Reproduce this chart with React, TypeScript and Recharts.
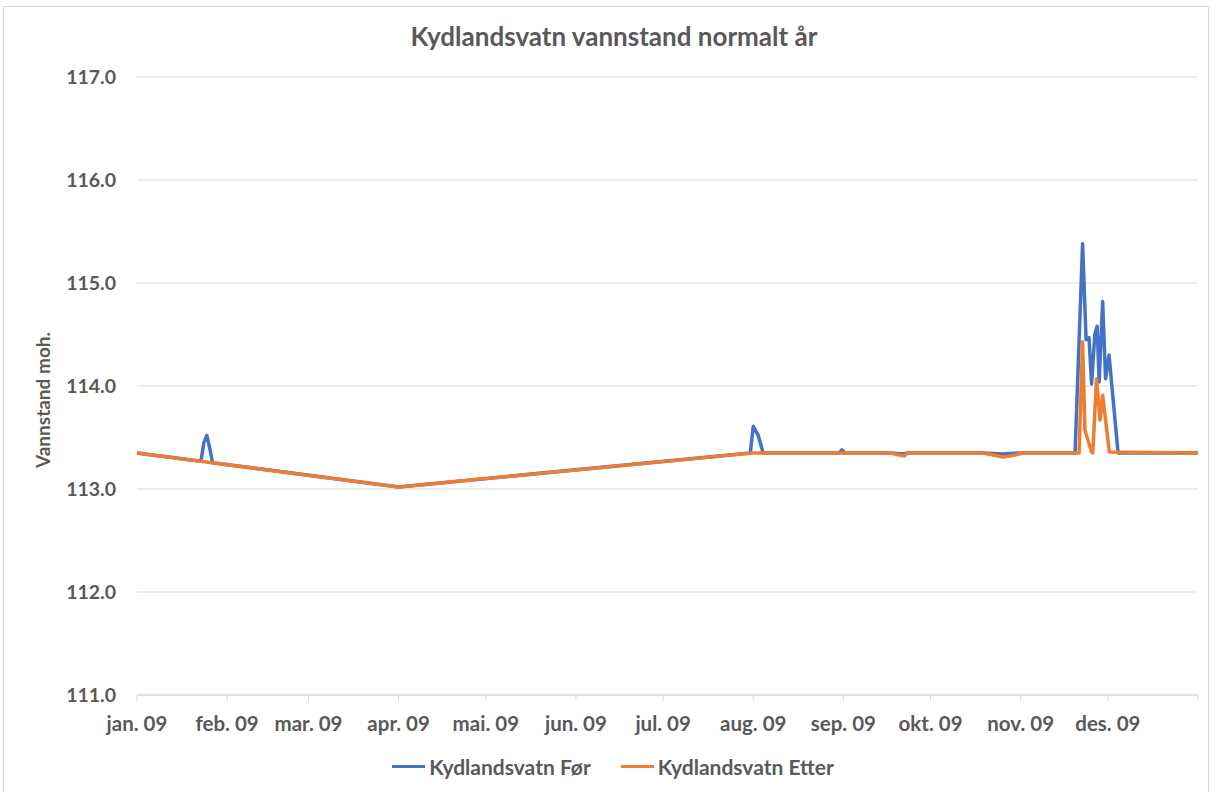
import { LineChart, Line, XAxis, YAxis, CartesianGrid, Legend } from "recharts";

// x positions are day-of-year (0 = 1 Jan 2009), y is water level in moh.
const monthDays = [0, 31, 59, 90, 120, 151, 181, 212, 243, 273, 304, 334, 365];
const monthLabels = [
  "jan. 09", "feb. 09", "mar. 09", "apr. 09", "mai. 09", "jun. 09",
  "jul. 09", "aug. 09", "sep. 09", "okt. 09", "nov. 09", "des. 09", "",
];
const levelTicks = [111, 112, 113, 114, 115, 116, 117];

const forDays = [
  0, 22, 23, 24, 25, 26, 90, 211, 212, 213.7, 215.4, 241.5, 242.5, 243.5,
  259, 264, 265, 291, 298, 304, 322.7, 325.3, 326.5, 327.5, 328.4, 329.5,
  330.3, 331, 332.2, 333.2, 334.4, 337.5, 365,
];
const forLevels = [
  113.35, 113.27, 113.45, 113.52, 113.4, 113.255, 113.02, 113.35, 113.61, 113.52, 113.35, 113.35, 113.38, 113.35,
  113.35, 113.34, 113.35, 113.35, 113.34, 113.35, 113.35, 115.38, 114.45, 114.47, 114.02, 114.5,
  114.58, 114.04, 114.82, 114.07, 114.3, 113.35, 113.35,
];

const etterDays = [
  0, 90, 211.5, 259, 264, 265, 291, 298, 302, 305, 324.1, 325.3, 326.1,
  328.4, 328.8, 330.1, 331.3, 332.2, 334.5, 365,
];
const etterLevels = [
  113.35, 113.02, 113.35, 113.35, 113.32, 113.35, 113.35, 113.31, 113.33, 113.35, 113.35, 114.43, 113.57,
  113.36, 113.35, 114.07, 113.67, 113.91, 113.36, 113.35,
];

const forData = forDays.map((day, i) => ({ day, level: forLevels[i] }));
const etterData = etterDays.map((day, i) => ({ day, level: etterLevels[i] }));

const BLUE = "#4472C4";
const ORANGE = "#ED7D31";
const TEXT = "#595959";
const FONT = "Lato, 'Open Sans', sans-serif";

function ChartLegend() {
  const items = [
    { name: "Kydlandsvatn Før", color: BLUE },
    { name: "Kydlandsvatn Etter", color: ORANGE },
  ];
  return (
    <div style={{ display: "flex", justifyContent: "center", gap: 30, paddingLeft: 14 }}>
      {items.map((it) => (
        <span
          key={it.name}
          style={{ display: "flex", alignItems: "center", gap: 4, fontFamily: FONT, fontWeight: 700, fontSize: 21, color: TEXT }}
        >
          <span style={{ width: 33, height: 3.5, background: it.color, display: "inline-block" }} />
          {it.name}
        </span>
      ))}
    </div>
  );
}

export default function App() {
  return (
    <div style={{ position: "absolute", left: 0, top: 0, width: 1212, height: 792, background: "#fff", overflow: "hidden" }}>
      <div
        style={{ position: "absolute", left: 3, top: 6, width: 1204, height: 800, border: "1px solid #d9d9d9" }}
      />
      <div
        style={{
          position: "absolute", top: 20, left: 0, width: 1228, textAlign: "center",
          fontFamily: FONT, fontWeight: 700, fontSize: 26, color: TEXT,
        }}
      >
        Kydlandsvatn vannstand normalt år
      </div>
      <LineChart
        width={1212}
        height={792}
        margin={{ top: 77, right: 14, left: 0, bottom: 57 }}
        style={{ position: "absolute", left: 0, top: 0 }}
      >
        <CartesianGrid vertical={false} stroke="#d9d9d9" />
        <XAxis
          dataKey="day"
          type="number"
          domain={[0, 365]}
          ticks={monthDays}
          interval={0}
          tickFormatter={(v: number) => monthLabels[monthDays.indexOf(v)] ?? ""}
          height={40}
          stroke="#d9d9d9"
          tickSize={6}
          tickMargin={15}
          tick={{ fill: TEXT, fontSize: 20.5, fontWeight: 700, fontFamily: FONT }}
        />
        <YAxis
          type="number"
          domain={[111, 117]}
          ticks={levelTicks}
          width={137}
          axisLine={false}
          tickLine={false}
          tickSize={0}
          tickMargin={21}
          tickFormatter={(v: number) => v.toFixed(1)}
          tick={{ fill: TEXT, fontSize: 19.5, fontWeight: 700, fontFamily: FONT }}
          label={{
            value: "Vannstand moh.",
            angle: -90,
            position: "center",
            dx: -25,
            dy: 14,
            style: { fill: TEXT, fontSize: 19, fontWeight: 700, fontFamily: FONT },
          }}
        />
        <Line
          data={forData}
          dataKey="level"
          name="Kydlandsvatn Før"
          type="linear"
          stroke={BLUE}
          strokeWidth={3.5}
          strokeLinejoin="round"
          dot={false}
          isAnimationActive={false}
        />
        <Line
          data={etterData}
          dataKey="level"
          name="Kydlandsvatn Etter"
          type="linear"
          stroke={ORANGE}
          strokeWidth={3.5}
          strokeLinejoin="round"
          dot={false}
          isAnimationActive={false}
        />
        <Legend
          verticalAlign="middle"
          align="center"
          layout="horizontal"
          wrapperStyle={{ top: 754, left: 0, width: 1212 }}
          content={() => <ChartLegend />}
        />
      </LineChart>
    </div>
  );
}
